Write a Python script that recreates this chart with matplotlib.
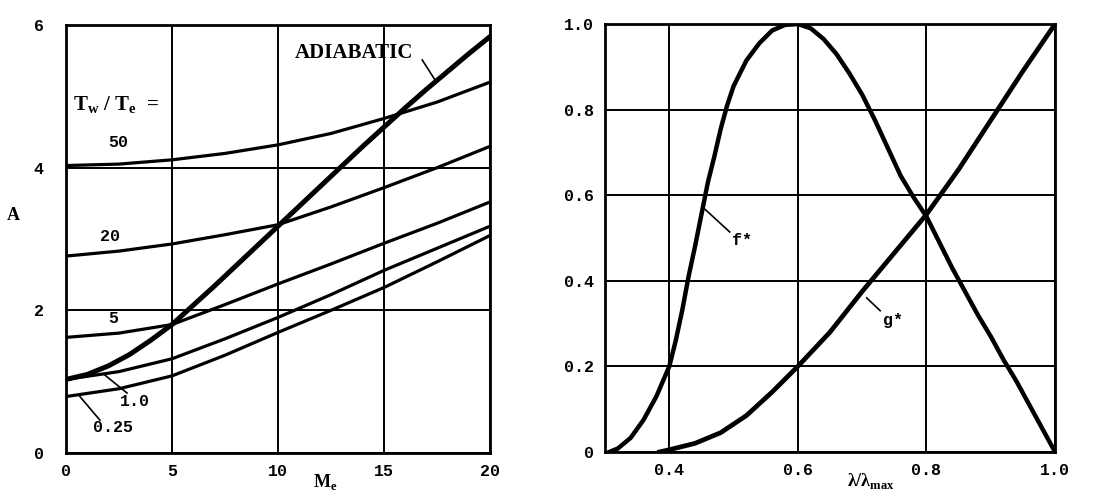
import matplotlib.pyplot as plt

# left panel: A vs M_e for several Tw/Te
mach_ad = [0, 1, 2, 3, 4, 5, 6, 7, 8, 9, 10, 11, 12, 13, 14, 15, 16, 17, 18, 19, 20]
a_adiabatic = [1.03, 1.10, 1.22, 1.38, 1.58, 1.80, 2.07, 2.34, 2.62, 2.90, 3.18,
               3.46, 3.74, 4.02, 4.30, 4.57, 4.84, 5.10, 5.35, 5.60, 5.84]
mach = [0, 2.5, 5, 7.5, 10, 12.5, 15, 17.5, 20]
a_50 = [4.03, 4.05, 4.11, 4.20, 4.32, 4.48, 4.69, 4.92, 5.20]
a_20 = [2.76, 2.83, 2.93, 3.06, 3.20, 3.45, 3.72, 4.00, 4.30]
a_5 = [1.62, 1.68, 1.80, 2.08, 2.37, 2.65, 2.94, 3.22, 3.52]
a_1 = [1.03, 1.14, 1.32, 1.60, 1.90, 2.22, 2.56, 2.87, 3.18]
a_025 = [0.79, 0.90, 1.08, 1.37, 1.69, 2.00, 2.32, 2.68, 3.05]

# right panel: f* and g* vs lambda/lambda_max
lam_f = [0.307, 0.32, 0.34, 0.36, 0.38, 0.39, 0.40, 0.41, 0.42, 0.43, 0.44, 0.45,
         0.46, 0.47, 0.48, 0.49, 0.50, 0.52, 0.54, 0.56, 0.58, 0.60, 0.62, 0.64,
         0.66, 0.68, 0.70, 0.72, 0.74, 0.76, 0.78, 0.80, 0.82, 0.84, 0.86, 0.88,
         0.90, 0.92, 0.94, 0.96, 0.98, 1.0]
f_star = [0.0, 0.008, 0.033, 0.075, 0.13, 0.165, 0.20, 0.26, 0.33, 0.41, 0.48, 0.555,
          0.63, 0.69, 0.755, 0.81, 0.855, 0.915, 0.955, 0.985, 0.998, 1.0, 0.99, 0.965,
          0.93, 0.885, 0.835, 0.775, 0.71, 0.645, 0.595, 0.55, 0.49, 0.43, 0.375, 0.32,
          0.27, 0.215, 0.165, 0.11, 0.055, 0.0]
lam_g = [0.385, 0.40, 0.44, 0.48, 0.52, 0.56, 0.60, 0.65, 0.70, 0.75, 0.80, 0.85,
         0.90, 0.95, 1.0]
g_star = [0.0, 0.005, 0.02, 0.045, 0.085, 0.14, 0.20, 0.28, 0.375, 0.465, 0.555,
          0.66, 0.775, 0.89, 1.0]

TICK_FONT = dict(family='Liberation Mono', weight='bold', size=12)
LABEL_FONT = dict(family='Liberation Serif', weight='bold', size=13)

fig = plt.figure(figsize=(10.99, 5.01), dpi=100)
ax1 = fig.add_axes([0.060, 0.096, 0.386, 0.854])
ax2 = fig.add_axes([0.5505, 0.098, 0.4095, 0.854])

for ax in (ax1, ax2):
    for s in ax.spines.values():
        s.set_linewidth(2.0)
    ax.tick_params(length=0, pad=8)
    ax.grid(True, color='black', linewidth=1.4)
    ax.set_axisbelow(True)

# left
ax1.plot(mach_ad, a_adiabatic, color='black', lw=3.6, solid_capstyle='round')
for ys in (a_50, a_20, a_5, a_1, a_025):
    ax1.plot(mach, ys, color='black', lw=2.3)
ax1.set_xlim(0, 20)
ax1.set_ylim(0, 6)
ax1.set_xticks([0, 5, 10, 15, 20])
ax1.set_yticks([0, 2, 4, 6])
ax1.set_xticklabels(['0', '5', '10', '15', '20'], **TICK_FONT)
ax1.set_yticklabels(['0', '2', '4', '6'], **TICK_FONT)
ax1.tick_params(axis='y', pad=16)
ax1.set_xlabel('M$_\\mathregular{e}$', fontdict=LABEL_FONT, labelpad=-3)
ax1.xaxis.set_label_coords(0.61, -0.045)
ax1.set_ylabel('A', fontdict=LABEL_FONT, rotation=0, va='center')
ax1.yaxis.set_label_coords(-0.125, 0.555)

ax1.text(10.8, 5.61, 'ADIABATIC', family='Liberation Serif', weight='bold',
         size=15, va='center')
ax1.plot([16.8, 17.4], [5.51, 5.23], color='black', lw=1.2)
ax1.text(0.33, 4.88, 'T$_\\mathregular{w}$ / T$_\\mathregular{e}$  =',
         family='Liberation Serif', weight='bold', size=15, va='center')
ax1.text(2.0, 4.35, '50', **TICK_FONT, va='center')
ax1.text(1.6, 3.03, '20', **TICK_FONT, va='center')
ax1.text(2.0, 1.89, '5', **TICK_FONT, va='center')
ax1.text(2.55, 0.72, '1.0', **TICK_FONT, va='center')
ax1.plot([1.84, 2.88], [1.09, 0.84], color='black', lw=1.2)
ax1.text(1.27, 0.36, '0.25', **TICK_FONT, va='center')
ax1.plot([0.66, 1.6], [0.79, 0.46], color='black', lw=1.2)

# right
ax2.plot(lam_f, f_star, color='black', lw=3.2)
ax2.plot(lam_g, g_star, color='black', lw=3.4)
ax2.set_xlim(0.3, 1.0)
ax2.set_ylim(0, 1.0)
ax2.set_xticks([0.4, 0.6, 0.8, 1.0])
ax2.set_yticks([0, 0.2, 0.4, 0.6, 0.8, 1.0])
ax2.set_xticklabels(['0.4', '0.6', '0.8', '1.0'], **TICK_FONT)
ax2.set_yticklabels(['0', '0.2', '0.4', '0.6', '0.8', '1.0'], **TICK_FONT)
ax2.set_xlabel('λ/λ$_\\mathregular{max}$', fontdict=LABEL_FONT, labelpad=-3)
ax2.xaxis.set_label_coords(0.59, -0.045)

ax2.text(0.497, 0.495, 'f*', **TICK_FONT, va='center')
ax2.plot([0.452, 0.494], [0.572, 0.514], color='black', lw=1.2)
ax2.text(0.732, 0.308, 'g*', **TICK_FONT, va='center')
ax2.plot([0.707, 0.728], [0.36, 0.33], color='black', lw=1.2)

fig.savefig('out.png', dpi=100)
